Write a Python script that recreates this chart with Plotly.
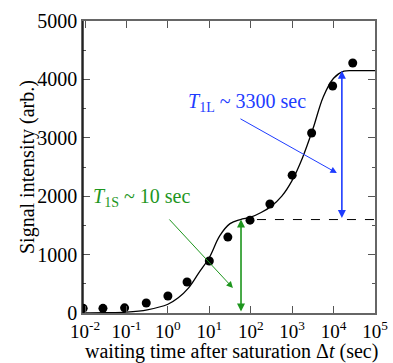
import plotly.graph_objects as go

# Measured data
t_data = [0.009, 0.027, 0.09, 0.3, 1.0, 2.9, 10, 28, 96, 290, 1000, 2950, 9500, 29000]
s_data = [80, 80, 88, 171, 291, 531, 890, 1300, 1590, 1866, 2360, 3082, 3887, 4280]

# Fit curve (log10 time, signal)
fit_logt = [-2.05, -1.5, -1.0, -0.5, 0.0, 0.25, 0.5, 0.75, 1.0, 1.25, 1.5, 1.75, 2.0,
            2.25, 2.5, 2.75, 3.0, 3.25, 3.5, 3.75, 4.0, 4.25, 4.5, 5.0]
fit_sig = [2, 5, 16, 55, 150, 260, 430, 690, 950, 1320, 1530, 1600, 1640,
           1720, 1830, 2000, 2270, 2660, 3150, 3700, 4020, 4140, 4150, 4150]

plateau_s = 1600
plateau_l = 4150

x_tickvals = [0.01, 0.1, 1, 10, 100, 1000, 10000, 100000]
x_ticktext = ["10<sup>-2</sup>", "10<sup>-1</sup>", "10<sup>0</sup>", "10<sup>1</sup>",
              "10<sup>2</sup>", "10<sup>3</sup>", "10<sup>4</sup>", "10<sup>5</sup>"]
y_tickvals = [0, 1000, 2000, 3000, 4000, 5000]

FONT = "Times New Roman, Liberation Serif, serif"
BLUE = "rgb(30,60,255)"
GREEN = "rgb(30,150,30)"

fig = go.Figure()
fig.add_trace(go.Scatter(x=[10 ** v for v in fit_logt], y=fit_sig, mode="lines",
                         line=dict(color="black", width=1.3, shape="spline"),
                         showlegend=False, hoverinfo="skip"))
fig.add_trace(go.Scatter(x=t_data, y=s_data, mode="markers",
                         marker=dict(color="black", size=9), showlegend=False))

# dashed plateau line
fig.add_shape(type="line", xref="x", yref="y", x0=10 ** 2.15, x1=10 ** 5,
              y0=plateau_s, y1=plateau_s, line=dict(color="black", width=1, dash="dash"))
# left axis black
fig.add_shape(type="line", xref="paper", yref="paper", x0=0, x1=0, y0=0, y1=1,
              line=dict(color="black", width=1.3))

def arrow(x_head, y_head, x_tail, y_tail, color, width, both=False):
    fig.add_annotation(x=x_head, y=y_head, ax=x_tail, ay=y_tail, xref="x", yref="y",
                       axref="x", ayref="y", text="", showarrow=True,
                       arrowhead=2, arrowsize=1.3 if width < 1.5 else 1.0,
                       arrowwidth=width, arrowcolor=color,
                       startarrowhead=2, startarrowsize=1.0,
                       arrowside="end+start" if both else "end")

arrow(4.08, 2397, 1.716, 3339, BLUE, 1)
arrow(4.20, plateau_l, 4.20, plateau_s, BLUE, 1.6, both=True)
arrow(1.57, 428, 0.002, 1627, GREEN, 1)
arrow(1.765, plateau_s, 1.765, 0, GREEN, 1.6, both=True)

fig.add_annotation(x=1.909, y=3596, xref="x", yref="y", showarrow=False,
                   text="<i>T</i><sub>1L</sub> ~ 3300 sec",
                   font=dict(family=FONT, size=20, color=BLUE))
fig.add_annotation(x=-0.626, y=1986, xref="x", yref="y", showarrow=False,
                   text="<i>T</i><sub>1S</sub> ~ 10 sec",
                   font=dict(family=FONT, size=20, color=GREEN))
# axis titles
fig.add_annotation(x=(27 - 83) / 292, y=0.5, xref="paper", yref="paper", showarrow=False,
                   text="Signal intensity (arb.)", textangle=-90,
                   xanchor="center", yanchor="middle",
                   font=dict(family=FONT, size=20, color="black"))
fig.add_annotation(x=(231 - 83) / 292, y=(313 - 351) / 292, xref="paper", yref="paper",
                   showarrow=False, text="waiting time after saturation Δ<i>t</i> (sec)",
                   xanchor="center", yanchor="middle",
                   font=dict(family=FONT, size=20, color="black"))

fig.update_layout(
    width=393, height=363,
    margin=dict(l=83, r=18, t=21, b=50),
    paper_bgcolor="white", plot_bgcolor="white",
    font=dict(family=FONT, size=20, color="black"),
    xaxis=dict(type="log", range=[-2.05, 5], tickvals=x_tickvals, ticktext=x_ticktext,
               ticks="inside", ticklen=7, tickcolor="#555", showgrid=False, zeroline=False,
               showline=True, linecolor="#666", linewidth=2, mirror="ticks",
               automargin=False, tickfont=dict(family=FONT, size=19)),
    yaxis=dict(range=[0, 5000], tickvals=y_tickvals, ticks="inside", ticklen=7,
               tickcolor="#555", showgrid=False, zeroline=False,
               showline=True, linecolor="#666", linewidth=1.5, mirror="ticks",
               automargin=False,
               minor=dict(ticks="inside", ticklen=3, dtick=500, tickcolor="#555", showgrid=False),
               tickfont=dict(family=FONT, size=20)),
)

fig.write_html("out.html")
